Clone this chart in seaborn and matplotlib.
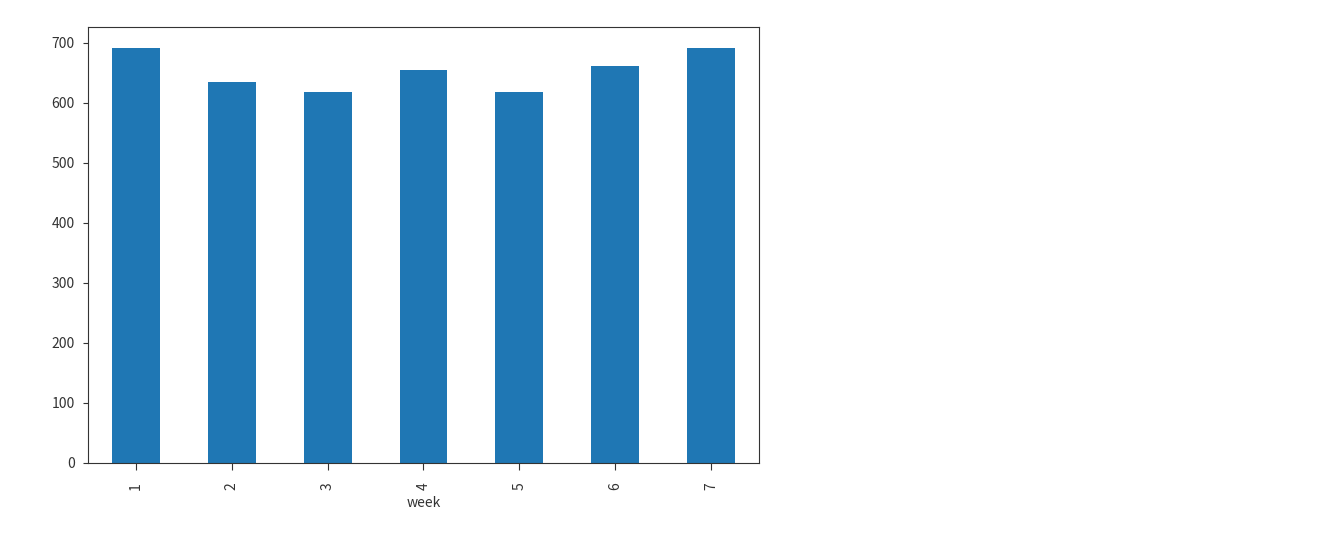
import pandas as pd
import seaborn as sns
import matplotlib.pyplot as plt

# Data
weeks = ['1', '2', '3', '4', '5', '6', '7']
counts = [691, 635, 618, 655, 618, 661, 691]

df = pd.DataFrame({'week': weeks, 'count': counts})

plt.rcParams['font.family'] = ['Noto Sans CJK SC', 'DejaVu Sans']
plt.rcParams['font.size'] = 10

fig = plt.figure(figsize=(13.17, 5.35), dpi=100)
ax = fig.add_axes([0.0668, 0.1346, 0.5095, 0.815])

sns.barplot(df, x='week', y='count', color='#1f77b4', saturation=1, width=0.5, ax=ax)

ax.set_xlim(-0.5, 6.5)
ax.set_ylim(0, 726)
ax.set_xlabel('week', color='#333333')
ax.set_ylabel('')
ax.tick_params(axis='x', rotation=90, pad=9, length=5, colors='#333333')
ax.tick_params(axis='y', pad=6, colors='#333333')
for s in ax.spines.values():
    s.set_color('#333333')

fig.savefig('out.png')
